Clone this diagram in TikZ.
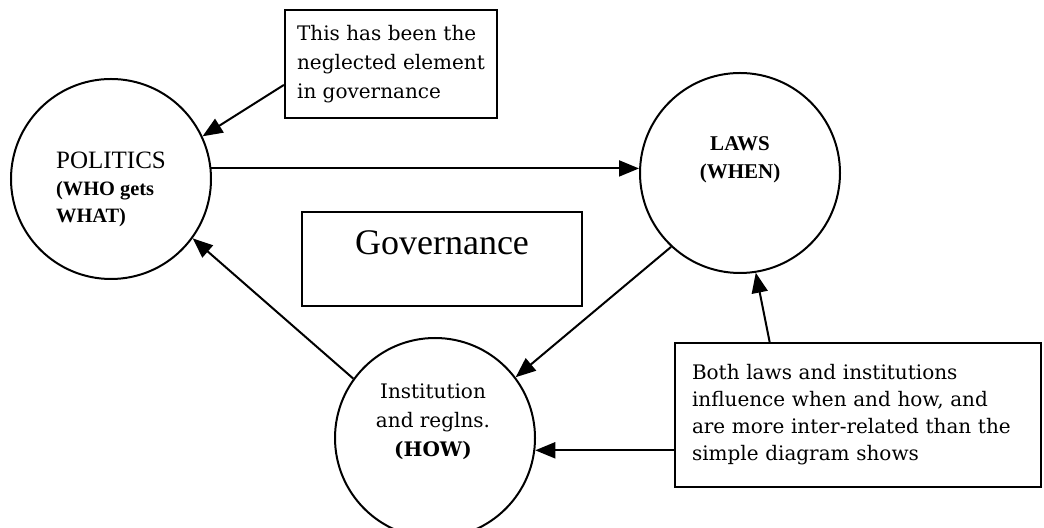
\documentclass[tikz,border=0pt]{standalone}
\usepackage{fontspec}
\setmainfont{Liberation Serif}
\newfontfamily\boxfont{DejaVu Serif}
\usepackage{tikz}
\usetikzlibrary{calc,arrows.meta}

\begin{document}
\begin{tikzpicture}[x=0.5pt,y=-0.5pt,
                      bubble/.style={draw,circle,line width=1pt,minimum size=100pt,inner sep=0pt},
                      txtbox/.style={draw,rectangle,line width=1.1pt,inner sep=0pt},
                      arr/.style={line width=1pt,-{Triangle[length=10pt,width=8pt]}}]
                      \useasboundingbox (0,0) rectangle (1044,528);
                      \node[bubble] (politics) at (111,179) {};
                      \node[bubble] (laws) at (740,173) {};
                      \node[bubble] (inst) at (435,438) {};
                      \node[align=left,font=\bfseries\fontsize{10.2}{13.5}\selectfont] (politicstext) at (111,189)
                        {{\mdseries\fontsize{12.5}{13.5}\selectfont POLITICS}\\(WHO gets\\WHAT)};
                      \node[align=center,font=\bfseries\fontsize{10.5}{14}\selectfont] (lawstext) at (740,160) {LAWS\\(WHEN)};
                      \node[align=center,font={\boxfont\fontsize{10}{14.5}\selectfont}] (insttext) at (433,422)
                        {Institution\\and reglns.\\\textbf{(HOW)}};
                      \node[txtbox,minimum width=140pt,minimum height=47pt] (govbox) at (442,259) {};
                      \node[anchor=base,font=\fontsize{18}{20}\selectfont] (govtext) at (442,255) {Governance};
                      \node[txtbox,minimum width=106pt,minimum height=54pt,align=left,
                        font={\boxfont\fontsize{10}{14.5}\selectfont}] (note) at (391,64)
                        {This has been the\\neglected element\\in governance};
                      \node[txtbox,minimum width=183pt,minimum height=72pt,text width=166pt,inner xsep=8.5pt,align=left,
                        font={\boxfont\fontsize{10}{13.5}\selectfont}] (both) at (858,415)
                        {Both laws and institutions\\influence when and how, and\\are more inter-related than the\\simple diagram shows};
                      \draw[arr] ($(note.north west)!0.69!(note.south west)$) -- (politics.25);
                      \draw[arr] (politics.6) -- (politics.6 -| laws.west);
                      \draw[arr] (inst.144) -- (politics.-36);
                      \draw[arr] (laws.227) -- (inst.37);
                      \draw[arr] ($(both.north west)!0.26!(both.north east)$) -- (laws.-81.5);
                      \draw[arr] (inst.-7 -| both.west) -- (inst.-7);
                  \end{tikzpicture}
\end{document}
